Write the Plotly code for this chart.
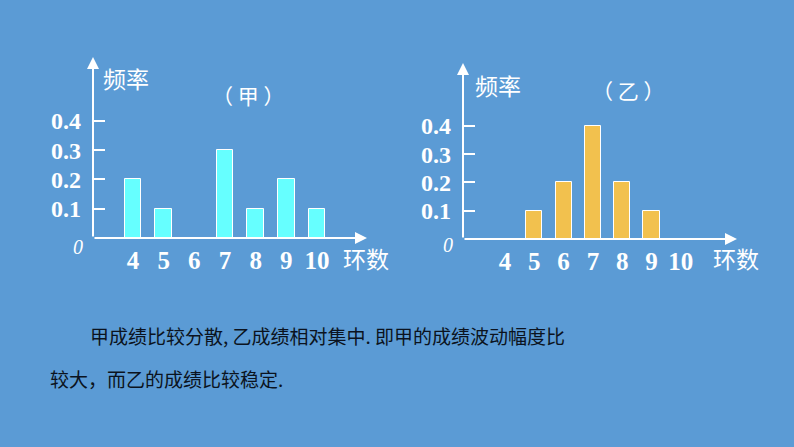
import plotly.graph_objects as go

# ---- data ----
rings = [4, 5, 6, 7, 8, 9, 10]
ring_labels = ["4", "5", "6", "7", "8", "9", "10"]
freq_jia = [0.2, 0.1, 0.0, 0.3, 0.1, 0.2, 0.1]
freq_yi = [0.0, 0.1, 0.2, 0.4, 0.2, 0.1, 0.0]
y_ticks = [0.1, 0.2, 0.3, 0.4]
y_tick_labels = ["0.1", "0.2", "0.3", "0.4"]
title_jia = "（ 甲 ）"
title_yi = "（ 乙 ）"
y_title = "频率"
x_title = "环数"
line1 = "甲成绩比较分散, 乙成绩相对集中. 即甲的成绩波动幅度比"
line2 = "较大，而乙的成绩比较稳定."

W, H = 794, 447
BG = "#5b9bd5"
CYAN = "#66ffff"
GOLD = "#f2c14e"
WHITE = "#ffffff"


def px(x):
    return x / W


def py(y):
    return 1 - y / H


fig = go.Figure()

fig.add_trace(go.Bar(x=rings, y=freq_jia, width=0.55, marker=dict(color=CYAN, line=dict(color=WHITE, width=1)),
                     xaxis="x", yaxis="y", showlegend=False, hoverinfo="skip"))
fig.add_trace(go.Bar(x=rings, y=freq_yi, width=0.55, marker=dict(color=GOLD, line=dict(color=WHITE, width=1)),
                     xaxis="x2", yaxis="y2", showlegend=False, hoverinfo="skip"))

# panel geometry (pixels)
L = dict(ox=93, oy=238, xend=367, ytop=57, x4=133, ux=30.67, uy=293.0)
R = dict(ox=463, oy=239, xend=737, ytop=63, x4=505, ux=29.3, uy=283.0)


def xaxis_cfg(p):
    lo = 4 - (p["x4"] - p["ox"]) / p["ux"]
    hi = 4 + (p["xend"] - p["x4"]) / p["ux"]
    return dict(domain=[px(p["ox"]), px(p["xend"])], range=[lo, hi], showgrid=False, zeroline=False,
                showline=False, ticks="", tickvals=rings, ticktext=ring_labels,
                tickfont=dict(family="Liberation Serif", size=25, color=WHITE, weight="bold"),
                ticklabelstandoff=5)


def yaxis_cfg(p, anchor):
    hi = (p["oy"] - p["ytop"]) / p["uy"]
    return dict(domain=[py(p["oy"]), py(p["ytop"])], range=[0, hi], showgrid=False, zeroline=False,
                showline=False, ticks="inside", ticklen=12, tickwidth=1.5, tickcolor=WHITE,
                tickvals=y_ticks, ticktext=y_tick_labels, anchor=anchor,
                tickfont=dict(family="Liberation Serif", size=24, color=WHITE, weight="bold"),
                ticklabelstandoff=11)


anns = []
for p in (L, R):
    anns.append(dict(xref="paper", yref="paper", x=px(p["xend"]), y=py(p["oy"]), ax=-(p["xend"] - p["ox"]), ay=0,
                     showarrow=True, arrowhead=2, arrowsize=1.2, arrowwidth=2, arrowcolor=WHITE, text=""))
    anns.append(dict(xref="paper", yref="paper", x=px(p["ox"]), y=py(p["ytop"]), ax=0, ay=(p["oy"] - p["ytop"]),
                     showarrow=True, arrowhead=2, arrowsize=1.2, arrowwidth=2, arrowcolor=WHITE, text=""))

cjk = "Noto Sans CJK SC"


def txt(x, y, s, size, color=WHITE, family=cjk, xanchor="center", italic=False):
    return dict(xref="paper", yref="paper", x=px(x), y=py(y), text=s, showarrow=False, xanchor=xanchor,
                yanchor="middle", font=dict(family=family, size=size, color=color,
                                            style="italic" if italic else "normal"))


anns += [
    txt(126, 78, y_title, 23),
    txt(248, 95, title_jia, 21),
    txt(78, 247, "0", 20, family="Liberation Serif", italic=True),
    txt(366, 258, x_title, 23),
    txt(498, 85, y_title, 23),
    txt(628, 90, title_yi, 21),
    txt(448, 245, "0", 20, family="Liberation Serif", italic=True),
    txt(736, 258, x_title, 23),
    txt(88, 335, line1, 19, color="#0b1320", xanchor="left"),
    txt(48, 378, line2, 19, color="#0b1320", xanchor="left"),
]

fig.update_layout(
    width=W, height=H, margin=dict(l=0, r=0, t=0, b=0), autosize=False,
    paper_bgcolor=BG, plot_bgcolor="rgba(0,0,0,0)",
    xaxis=xaxis_cfg(L), yaxis=yaxis_cfg(L, "x"),
    xaxis2=dict(xaxis_cfg(R), anchor="y2"), yaxis2=yaxis_cfg(R, "x2"),
    annotations=anns, bargap=0,
)
fig.layout.xaxis.anchor = "y"

fig.write_html("out.html", config={"displayModeBar": False},
               post_script="document.body.style.margin='0';document.body.style.overflow='hidden';")
